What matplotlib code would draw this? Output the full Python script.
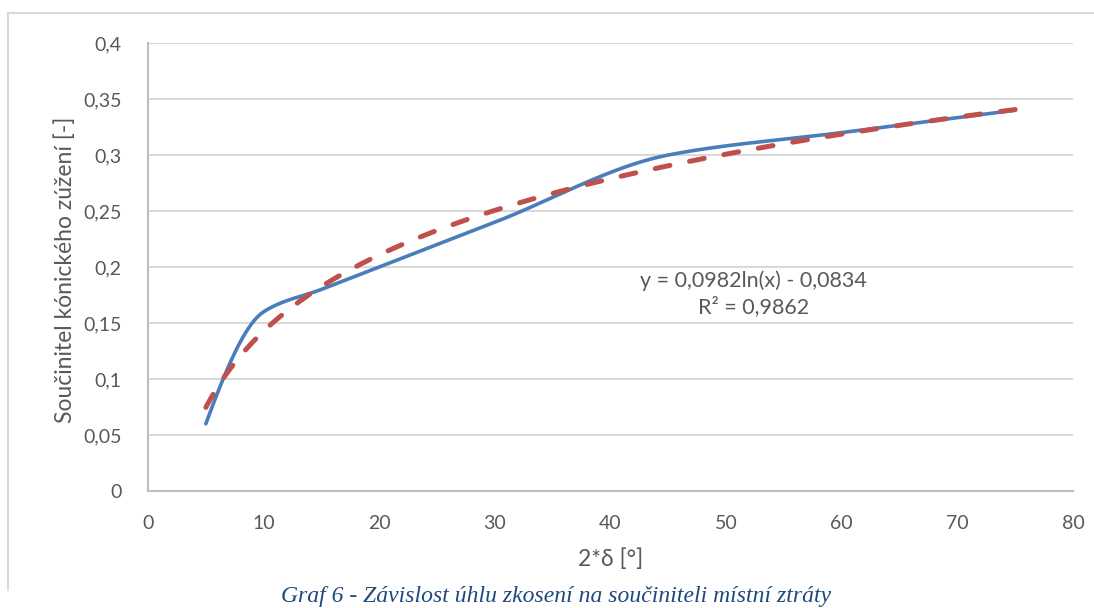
import numpy as np
import matplotlib
matplotlib.use("Agg")
import matplotlib.pyplot as plt
from matplotlib.lines import Line2D

# data
uhel = [5, 10, 15, 30, 45, 60, 75]                       # 2*delta [deg]
soucinitel = [0.06, 0.16, 0.18, 0.24, 0.30, 0.32, 0.34]  # zeta [-]
trend_a = 0.0982
trend_b = -0.0834
r2 = 0.9862

x_ticks = [0, 10, 20, 30, 40, 50, 60, 70, 80]
y_ticks = [0, 0.05, 0.1, 0.15, 0.2, 0.25, 0.3, 0.35, 0.4]

plt.rcParams["font.family"] = ["Lato", "DejaVu Sans"]


def smooth_line(x, y, n=40):
    # monotone cubic (PCHIP) through the points, looks like Excel's smoothed line
    x = np.asarray(x, float); y = np.asarray(y, float)
    h = np.diff(x); d = np.diff(y) / h
    m = np.zeros_like(y)
    for k in range(1, len(x) - 1):
        if d[k - 1] * d[k] > 0:
            w1 = 2 * h[k] + h[k - 1]; w2 = h[k] + 2 * h[k - 1]
            m[k] = (w1 + w2) / (w1 / d[k - 1] + w2 / d[k])
    m[0] = ((2 * h[0] + h[1]) * d[0] - h[0] * d[1]) / (h[0] + h[1])
    m[-1] = ((2 * h[-1] + h[-2]) * d[-1] - h[-1] * d[-2]) / (h[-1] + h[-2])
    xs, ys = [], []
    for k in range(len(h)):
        t = np.linspace(0, 1, n)
        h00 = 2 * t**3 - 3 * t**2 + 1; h10 = t**3 - 2 * t**2 + t
        h01 = -2 * t**3 + 3 * t**2; h11 = t**3 - t**2
        xs.append(x[k] + t * h[k])
        ys.append(h00 * y[k] + h10 * h[k] * m[k] + h01 * y[k + 1] + h11 * h[k] * m[k + 1])
    return np.concatenate(xs), np.concatenate(ys)


fig = plt.figure(figsize=(10.94, 6.08), dpi=100)
ax = fig.add_axes([148 / 1094, 1 - 491 / 608, (1073 - 148) / 1094, (491 - 43) / 608])

# outer chart border (light gray)
fig.add_artist(Line2D([8 / 1094, 8 / 1094], [1 - 590 / 608, 1 - 13 / 608],
                      transform=fig.transFigure, color="#d9d9d9", lw=1.5))
fig.add_artist(Line2D([8 / 1094, 1.0], [1 - 13 / 608, 1 - 13 / 608],
                      transform=fig.transFigure, color="#d9d9d9", lw=1.5))

sx, sy = smooth_line(uhel, soucinitel)
ax.plot(sx, sy, color="#4A7EBB", lw=2.6, solid_capstyle="round", zorder=3)

tx = np.linspace(min(uhel), max(uhel), 300)
ax.plot(tx, trend_a * np.log(tx) + trend_b, color="#C0504D", lw=3.6,
        dashes=(3, 4), dash_capstyle="round", zorder=4)

ax.set_xlim(0, 80)
ax.set_ylim(0, 0.4)
ax.set_xticks(x_ticks)
ax.set_yticks(y_ticks)
ax.set_xticklabels([str(v) for v in x_ticks])
ax.set_yticklabels(["0" if v == 0 else f"{v:g}".replace(".", ",") for v in y_ticks])
ax.tick_params(length=0, labelsize=14, colors="#595959")
ax.tick_params(axis="y", pad=19)
ax.tick_params(axis="x", pad=17)
ax.grid(axis="y", color="#d9d9d9", lw=1.5)
ax.set_axisbelow(True)
for s in ["top", "right"]:
    ax.spines[s].set_visible(False)
for s in ["left", "bottom"]:
    ax.spines[s].set_color("#bfbfbf")
    ax.spines[s].set_linewidth(1.5)

ax.set_xlabel("2*δ [°]", fontsize=16.5, color="#595959", labelpad=12)
ax.set_ylabel("Součinitel kónického zúžení [-]", fontsize=16.5, color="#595959")
ax.yaxis.set_label_coords(-(148 - 76) / 925, (491 - 270) / 448)

ax.text(52.4, 0.176, f"y = {trend_a:.4f}ln(x) - {abs(trend_b):.4f}\nR² = {r2:.4f}".replace(".", ","),
        fontsize=15.5, color="#595959", ha="center", va="center", linespacing=1.3)

fig.text(556 / 1094, 1 / 608, "Graf 6 - Závislost úhlu zkosení na součiniteli místní ztráty",
         fontsize=17, style="italic", family="Liberation Serif", color="#1F497D",
         ha="center", va="bottom")

fig.savefig("out.png", dpi=100)
